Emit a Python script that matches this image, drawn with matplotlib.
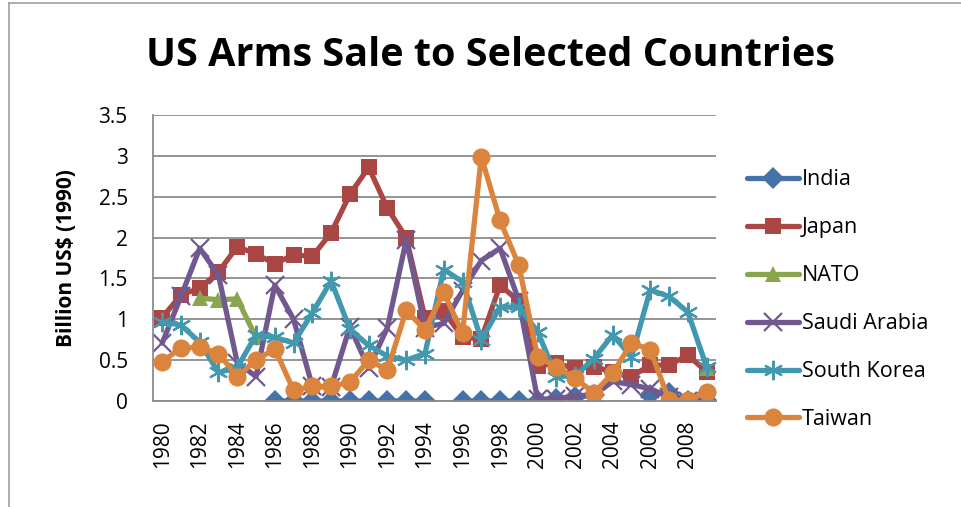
import numpy as np
import matplotlib.pyplot as plt
from matplotlib.lines import Line2D

nan = np.nan
years = list(range(1980, 2010))

india = [nan, nan, nan, nan, nan, nan, 0, 0, 0, 0, 0, 0, 0, 0, 0, nan,
         0, 0, 0, 0, 0, 0.03, 0.05, 0.07, nan, nan, 0.08, 0.1, 0.0, 0.0]
japan = [1.02, 1.3, 1.38, 1.58, 1.89, 1.8, 1.68, 1.79, 1.77, 2.06, 2.53, 2.86, 2.36, 2.0, 1.02, 1.1,
         0.78, 0.76, 1.42, 1.22, 0.43, 0.46, 0.4, 0.42, 0.36, 0.3, 0.44, 0.44, 0.56, 0.36]
nato = [nan, nan, 1.26, 1.24, 1.25, 0.78, nan, nan, nan, nan, nan, nan, nan, nan, nan, nan,
        nan, nan, nan, nan, nan, nan, nan, nan, nan, nan, nan, nan, nan, 0.4]
saudi = [0.71, 1.28, 1.87, 1.54, 0.47, 0.3, 1.42, 1.0, 0.18, 0.17, 0.91, 0.4, 0.9, 1.97, 0.9, 0.95,
         1.35, 1.72, 1.87, 1.23, 0.02, 0.03, 0.06, 0.08, 0.24, 0.2, 0.15, 0.05, 0.0, 0.0]
skorea = [0.97, 0.93, 0.72, 0.35, 0.41, 0.81, 0.78, 0.71, 1.08, 1.47, 0.88, 0.68, 0.55, 0.5, 0.58, 1.61,
          1.46, 0.75, 1.15, 1.15, 0.85, 0.3, 0.31, 0.52, 0.81, 0.54, 1.36, 1.28, 1.09, 0.42]
taiwan = [0.48, 0.65, 0.66, 0.58, 0.3, 0.5, 0.64, 0.13, 0.18, 0.18, 0.23, 0.5, 0.38, 1.11, 0.87, 1.33,
          0.83, 2.99, 2.21, 1.66, 0.54, 0.42, 0.28, 0.1, 0.34, 0.71, 0.63, 0.01, 0.01, 0.11]

series = [
    ("India", india, "#4572A7", "D", 11),
    ("Japan", japan, "#AA4643", "s", 12),
    ("NATO", nato, "#89A54E", "^", 12),
    ("Saudi Arabia", saudi, "#71588F", "x", 13),
    ("South Korea", skorea, "#4198AF", (6, 2, 0), 14),
    ("Taiwan", taiwan, "#DB843D", "o", 13),
]

plt.rcParams['font.family'] = ['Open Sans', 'DejaVu Sans']

fig = plt.figure(figsize=(9.61, 5.07), dpi=100)
ax = fig.add_axes([0.159, 0.209, 0.586, 0.564])

x = np.arange(len(years))
for name, vals, col, mk, ms in series:
    ax.plot(x, vals, color=col, lw=3.8, marker=mk, ms=ms, mew=1.6 if mk in ("x", (6, 2, 0)) else 0,
            mec=col, mfc=col, label=name, solid_capstyle='round')

ax.set_xlim(-0.5, len(years) - 0.5)
ax.set_ylim(0, 3.5)
ax.set_yticks(np.arange(0, 3.51, 0.5))
ax.set_yticklabels(["0", "0.5", "1", "1.5", "2", "2.5", "3", "3.5"], fontsize=15)
ax.set_xticks(x[::2])
ax.set_xticklabels([str(y) for y in years[::2]], rotation=90, fontsize=15)
ax.tick_params(axis='y', length=0, pad=18)
ax.tick_params(axis='x', length=0, pad=14)
ax.grid(axis='y', color='#8c8c8c', lw=1.3)
ax.set_axisbelow(True)
for s in ("top", "right"):
    ax.spines[s].set_visible(False)
ax.spines["left"].set_color('#8c8c8c')
ax.spines["bottom"].set_color('#8c8c8c')
ax.spines["left"].set_linewidth(1.3)
ax.spines["bottom"].set_linewidth(1.3)

ax.set_ylabel("Billion US$ (1990)", fontsize=15, fontweight='bold')
ax.yaxis.set_label_coords(-0.135, 0.5)
fig.text(0.51, 0.89, "US Arms Sale to Selected Countries", ha='center', va='center',
         fontsize=28.5, fontweight='bold')

ax.legend(loc='upper left', bbox_to_anchor=(1.04, 0.84), frameon=False, fontsize=15.5,
          handlelength=2.4, labelspacing=1.25, handletextpad=0.15, borderaxespad=0)

fig.add_artist(Line2D([0.0094, 0.0094], [0, 0.994], color='#a0a0a0', lw=1.2))
fig.add_artist(Line2D([0.0094, 1.0], [0.994, 0.994], color='#a0a0a0', lw=1.2))

fig.savefig("out.png", dpi=100)
